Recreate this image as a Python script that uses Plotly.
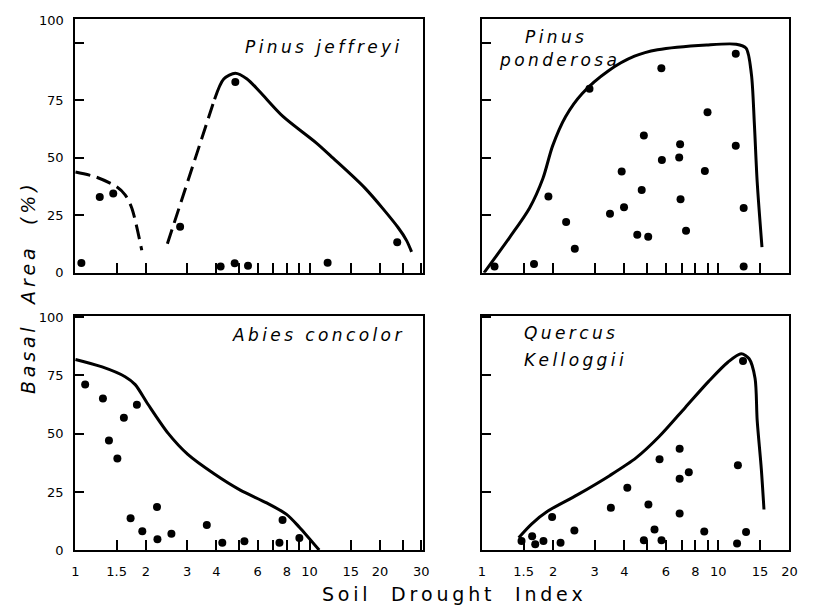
import math
import plotly.graph_objects as go

# ---------------- data ----------------
# Pinus jeffreyi (top-left)
pj_pts_x = [1.06, 1.27, 1.45, 2.80, 4.17, 4.79, 4.82, 5.46, 11.95, 23.7]
pj_pts_y = [4.3, 33, 34.5, 20, 2.7, 4.1, 83, 3.1, 4.4, 13.3]
pj_dash1_x = [1.0, 1.22, 1.50, 1.63, 1.74, 1.92]
pj_dash1_y = [43.8, 41.7, 37.4, 33.9, 28.2, 9.8]
pj_dash2_x = [2.47, 3.93]
pj_dash2_y = [12.6, 75.5]
pj_line_x = [3.93, 4.30, 4.82, 5.41, 6.15, 7.7, 10.65, 12.5, 17.3, 23.9, 26, 27.3]
pj_line_y = [75.5, 84.3, 86.8, 84.3, 78.6, 68, 56.6, 50.2, 36.7, 19.7, 14, 9.1]

# Pinus ponderosa (top-right)
pp_pts_x = [1.13, 1.66, 1.91, 2.27, 2.47, 2.85, 3.48, 3.90, 3.99, 4.54, 4.74, 4.84,
            5.05, 5.74, 5.77, 6.83, 6.89, 6.92, 7.3, 8.77, 9.0, 11.85, 11.85, 12.8, 12.8]
pp_pts_y = [2.7, 3.8, 33.2, 22.1, 10.5, 80, 25.7, 44.1, 28.5, 16.5, 36, 59.7,
            15.7, 89, 49, 50.1, 55.9, 32, 18.3, 44.3, 69.8, 95.3, 55.2, 28.2, 2.7]
pp_line_x = [1.02, 1.31, 1.59, 1.81, 1.99, 2.26, 2.65, 3.42, 4.42, 5.53, 8.93, 11.9,
             13.1, 13.8, 14.2, 14.6, 15.3]
pp_line_y = [0, 15.4, 28.2, 41, 55.2, 68, 77.9, 87.8, 94.2, 97, 99.1, 99.4,
             97.7, 86.4, 65.1, 39.6, 11.2]

# Abies concolor (bottom-left)
ac_pts_x = [1.10, 1.31, 1.39, 1.51, 1.61, 1.72, 1.83, 1.93, 2.23, 2.24, 2.57, 3.64,
            4.24, 5.27, 7.44, 7.67, 9.05]
ac_pts_y = [71, 65.1, 47.1, 39.3, 56.8, 13.75, 62.4, 8.2, 18.6, 4.7, 7.1, 10.8,
            3.2, 3.9, 3.2, 13, 5.3]
ac_line_x = [1.0, 1.30, 1.63, 1.80, 2.04, 2.49, 3.02, 3.91, 5.06, 6.56, 7.98, 9.05, 11.0]
ac_line_y = [81.8, 78.6, 74.4, 71, 62.6, 50.1, 41.1, 32.8, 25.8, 20.3, 15.4, 9.9, 0.1]

# Quercus kelloggii (bottom-right)
qk_pts_x = [1.47, 1.63, 1.68, 1.82, 1.98, 2.15, 2.46, 3.51, 4.12, 4.84, 5.06, 5.37,
            5.64, 5.75, 6.86, 6.86, 6.86, 7.5, 8.72, 12.1, 12.0, 12.72, 13.1]
qk_pts_y = [4, 6, 2.6, 4, 14.3, 3.2, 8.5, 18.2, 26.8, 4.3, 19.6, 8.9,
            39, 4.3, 43.5, 30.7, 15.8, 33.5, 8.1, 36.5, 2.9, 81.1, 7.8]
qk_line_x = [1.43, 1.62, 1.90, 2.53, 3.48, 4.50, 5.62, 7.25, 9.1, 11.0, 12.5, 13.5,
             14.3, 14.6, 15.2, 15.6]
qk_line_y = [5.4, 11.25, 16.8, 23.75, 32.1, 39.7, 48.75, 61.25, 72.4, 80.7, 84.2, 82.1,
             73.75, 55.7, 34.9, 17.5]

# tick labels
left_tickvals = [1, 1.5, 2, 3, 4, 5, 6, 7, 8, 9, 10, 15, 20, 25, 30]
left_ticktext = ["1", "1.5", "2", "3", "4", "", "6", "", "8", "", "10", "15", "20", "", "30"]
right_tickvals = [1, 1.5, 2, 3, 4, 5, 6, 7, 8, 9, 10, 15, 20]
right_ticktext = ["1", "1.5", "2", "3", "4", "", "6", "", "8", "", "10", "15", "20"]
y_tickvals = [0, 25, 50, 75, 100]
y_ticktext = ["0", "25", "50", "75", "100"]

FONT = "DejaVu Sans"
W, H = 830, 615


def sp(s):
    return "\u2009".join(list(s))


def px_x(p):
    return p / W


def px_y(p):
    return 1 - p / H


fig = go.Figure()

LW = 3
pts = dict(mode="markers", marker=dict(color="black", size=8), showlegend=False, hoverinfo="skip")
solid = dict(mode="lines", line=dict(color="black", width=LW, shape="spline", smoothing=0.8),
             showlegend=False, hoverinfo="skip")
dashed = dict(mode="lines", line=dict(color="black", width=LW, dash="15px,7px", shape="spline",
                                      smoothing=0.8),
              showlegend=False, hoverinfo="skip")

fig.add_trace(go.Scatter(x=pj_dash1_x, y=pj_dash1_y, xaxis="x", yaxis="y", **dashed))
fig.add_trace(go.Scatter(x=pj_dash2_x, y=pj_dash2_y, xaxis="x", yaxis="y", **dashed))
fig.add_trace(go.Scatter(x=pj_line_x, y=pj_line_y, xaxis="x", yaxis="y", **solid))
fig.add_trace(go.Scatter(x=pj_pts_x, y=pj_pts_y, xaxis="x", yaxis="y", **pts))

fig.add_trace(go.Scatter(x=pp_line_x, y=pp_line_y, xaxis="x2", yaxis="y2", **solid))
fig.add_trace(go.Scatter(x=pp_pts_x, y=pp_pts_y, xaxis="x2", yaxis="y2", **pts))

fig.add_trace(go.Scatter(x=ac_line_x, y=ac_line_y, xaxis="x3", yaxis="y3", **solid))
fig.add_trace(go.Scatter(x=ac_pts_x, y=ac_pts_y, xaxis="x3", yaxis="y3", **pts))

fig.add_trace(go.Scatter(x=qk_line_x, y=qk_line_y, xaxis="x4", yaxis="y4", **solid))
fig.add_trace(go.Scatter(x=qk_pts_x, y=qk_pts_y, xaxis="x4", yaxis="y4", **pts))

common = dict(showline=True, linecolor="black", linewidth=1.7, mirror=True,
              ticks="inside", ticklen=10, tickwidth=1.5, tickcolor="black",
              showgrid=False, zeroline=False,
              tickfont=dict(family=FONT, size=13, color="black"))

left_dom = [px_x(72), px_x(425)]
right_dom = [px_x(485), px_x(797)]
top_dom = [px_y(273), px_y(13)]
bot_dom = [px_y(557), px_y(317)]
left_range = [math.log10(0.995), math.log10(30.5)]
right_range = [0, math.log10(20)]

fig.update_layout(
    width=W, height=H, margin=dict(l=0, r=0, t=0, b=0),
    paper_bgcolor="white", plot_bgcolor="white", showlegend=False,
    xaxis=dict(common, type="log", domain=left_dom, range=left_range, anchor="y",
               tickvals=left_tickvals, ticktext=left_ticktext, showticklabels=False),
    yaxis=dict(common, domain=top_dom, range=[0, 110.5], anchor="x",
               tickvals=y_tickvals, ticktext=y_ticktext[:4] + [""], ticklen=9,
               ticklabelstandoff=7),
    xaxis2=dict(common, type="log", domain=right_dom, range=right_range, anchor="y2",
                tickvals=right_tickvals, ticktext=right_ticktext, showticklabels=False),
    yaxis2=dict(common, domain=top_dom, range=[0, 110.5], anchor="x2",
                tickvals=y_tickvals, showticklabels=False, ticklen=9),
    xaxis3=dict(common, type="log", domain=left_dom, range=left_range, anchor="y3",
                tickvals=left_tickvals, ticktext=left_ticktext, ticklabelstandoff=8),
    yaxis3=dict(common, domain=bot_dom, range=[0, 100.5], anchor="x3",
                tickvals=y_tickvals, ticktext=y_ticktext, ticklen=9, ticklabelstandoff=7),
    xaxis4=dict(common, type="log", domain=right_dom, range=right_range, anchor="y4",
                tickvals=right_tickvals, ticktext=right_ticktext, ticklabelstandoff=8),
    yaxis4=dict(common, domain=bot_dom, range=[0, 100.5], anchor="x4",
                tickvals=y_tickvals, showticklabels=False, ticklen=9),
)

sp_font = dict(family=FONT, size=17, color="black")
ann = [
    dict(text="<i>" + sp("Pinus jeffreyi") + "</i>", x=px_x(404), y=px_y(42),
         xanchor="right", yanchor="middle", font=sp_font),
    dict(text="<i>" + sp("Pinus") + "</i>", x=px_x(527), y=px_y(32),
         xanchor="left", yanchor="middle", font=sp_font),
    dict(text="<i>" + sp("ponderosa") + "</i>", x=px_x(500), y=px_y(55),
         xanchor="left", yanchor="middle", font=sp_font),
    dict(text="<i>" + sp("Abies concolor") + "</i>", x=px_x(406), y=px_y(337),
         xanchor="right", yanchor="middle", font=sp_font),
    dict(text="<i>" + sp("Quercus") + "</i>", x=px_x(526), y=px_y(335),
         xanchor="left", yanchor="middle", font=sp_font),
    dict(text="<i>" + sp("Kelloggii") + "</i>", x=px_x(526), y=px_y(362),
         xanchor="left", yanchor="middle", font=sp_font),
    # "100" label printed at the top of the upper-left frame
    dict(text="100", x=px_x(63), y=px_y(15), xanchor="right", yanchor="middle",
         font=dict(family=FONT, size=13, color="black")),
    dict(text="<i>" + sp("Basal  Area  (%)") + "</i>", x=px_x(25), y=px_y(290),
         textangle=-90, xanchor="center", yanchor="middle",
         font=dict(family=FONT, size=19, color="black")),
    dict(text=sp("Soil  Drought  Index"), x=px_x(455), y=px_y(602),
         xanchor="center", yanchor="middle",
         font=dict(family=FONT, size=19, color="black")),
]
for a in ann:
    a.update(xref="paper", yref="paper", showarrow=False)
fig.update_layout(annotations=ann)

fig.write_html("out.html")
